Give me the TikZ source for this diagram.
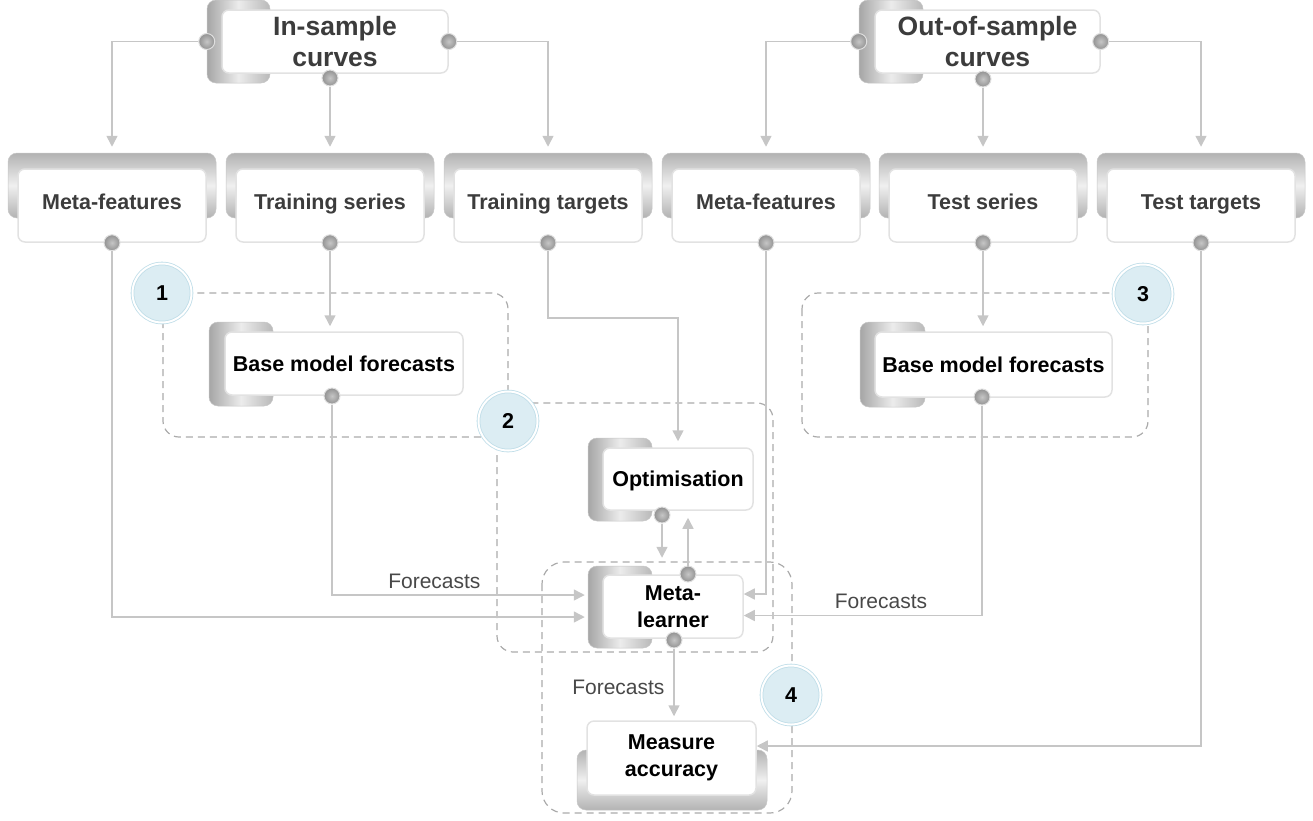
\documentclass[tikz,border=0pt]{standalone}
\usepackage{fontspec}
\setmainfont{Liberation Sans}
\usetikzlibrary{arrows.meta,positioning,shapes}

\definecolor{conn}{HTML}{C6C6C6}
\definecolor{dashgray}{HTML}{ABABAB}
\definecolor{boxline}{HTML}{E2E2E2}
\definecolor{headtext}{HTML}{3C3C3C}
\definecolor{lbltext}{HTML}{484848}
\definecolor{numfill}{HTML}{DCEDF3}
\definecolor{numring}{HTML}{BFDDE8}

\begin{document}
\begin{tikzpicture}[x=1pt,y=-1pt,
    >={Triangle[length=11pt,width=11pt]},
    arr/.style={->,draw=conn,line width=1.5pt},
    box/.style={draw=boxline,fill=white,rounded corners=7pt,line width=1.5pt,
                inner sep=0pt,align=center,text height=15.5pt,text depth=0pt,
                font=\bfseries\fontsize{21.5}{28}\selectfont},
    mbox/.style={draw=boxline,fill=white,rounded corners=7pt,line width=1.5pt,
                inner sep=0pt,align=center,font=\bfseries\fontsize{21.5}{27}\selectfont},
    headbox/.style={mbox,text=headtext,font=\bfseries\fontsize{26.5}{31}\selectfont},
    rowbox/.style={box,text=headtext,text depth=8pt,text height=16pt,
                   minimum width=188pt,minimum height=73pt},
    brk/.style={draw=gray!45,line width=0.5pt,rounded corners=9pt,inner sep=0pt},
    brkh/.style={brk,left color=gray!70,right color=gray!55,middle color=gray!15},
    brkv/.style={brk,top color=gray!60,bottom color=gray!60,middle color=gray!12,
                 minimum width=208pt,minimum height=65pt},
    knob/.style={circle,inner color=gray!45,outer color=gray!85,draw=gray!25,
                 line width=1pt,minimum size=16pt,inner sep=0pt},
    num/.style={circle,fill=numfill,draw=numring,line width=0.8pt,double=white,
                double distance=2pt,minimum size=59pt,inner sep=0pt,
                font=\bfseries\fontsize{21.5}{25}\selectfont},
    region/.style={draw=dashgray,line width=1.2pt,dash pattern=on 7pt off 5pt,
                   rounded corners=16pt},
    lbl/.style={text=lbltext,font=\fontsize{21}{25}\selectfont}]

    \useasboundingbox (0,0) rectangle (1313,820);

    % dashed groups
    \draw[region] (163,293) rectangle (508,437);
    \draw[region] (497,403) rectangle (773,652);
    \draw[region] (802,293) rectangle (1148,437);
    \draw[region,rounded corners=22pt] (542,562) rectangle (792,813);

    % curve sets
    \node[brkh,minimum width=63pt,minimum height=83pt] (iscbk) at (238.5,41.5) {};
    \node[headbox,minimum width=226pt,minimum height=63pt] (isc) at (335,41.5) {In-sample\\curves};
    \node[knob] (isc-l) at (iscbk.west) {};
    \node[knob] (isc-r) at (isc.east) {};
    \node[knob] (isc-b) at (330,78) {};

    \node[brkh,minimum width=64pt,minimum height=83pt] (oscbk) at (891,41.5) {};
    \node[headbox,minimum width=225pt,minimum height=63pt] (osc) at (987.5,41.5) {Out-of-sample\\curves};
    \node[knob] (osc-l) at (oscbk.west) {};
    \node[knob] (osc-r) at (osc.east) {};
    \node[knob] (osc-b) at (983,79) {};

    % inputs
    \node[brkv] (mf1bk) at (112,185.5) {};
    \node[rowbox] (mf1) at (112,205.5) {Meta-features};
    \node[knob] (mf1-d) at (mf1.south) {};

    \node[brkv] (tsbk) at (330,185.5) {};
    \node[rowbox] (ts) at (330,205.5) {Training series};
    \node[knob] (ts-d) at (ts.south) {};

    \node[brkv] (ttbk) at (548,185.5) {};
    \node[rowbox] (tt) at (548,205.5) {Training targets};
    \node[knob] (tt-d) at (tt.south) {};

    \node[brkv] (mf2bk) at (766,185.5) {};
    \node[rowbox] (mf2) at (766,205.5) {Meta-features};
    \node[knob] (mf2-d) at (mf2.south) {};

    \node[brkv] (tsebk) at (983,185.5) {};
    \node[rowbox] (tse) at (983,205.5) {Test series};
    \node[knob] (tse-d) at (tse.south) {};

    \node[brkv] (tstbk) at (1201,185.5) {};
    \node[rowbox] (tst) at (1201,205.5) {Test targets};
    \node[knob] (tst-d) at (tst.south) {};

    % base models
    \node[brkh,minimum width=64pt,minimum height=84pt] (bmf1bk) at (241,364) {};
    \node[box,minimum width=238pt,minimum height=63pt] (bmf1) at (344,363.5) {Base model forecasts};
    \node[knob] (bmf1-d) at (332,396) {};

    \node[brkh,minimum width=65pt,minimum height=85pt] (bmf2bk) at (892.5,364.5) {};
    \node[box,minimum width=237pt,minimum height=65pt] (bmf2) at (993.5,364.5) {Base model forecasts};
    \node[knob] (bmf2-d) at (982,397) {};

    % meta model
    \node[brkh,minimum width=64pt,minimum height=83pt] (optbk) at (620,479.5) {};
    \node[box,minimum width=150pt,minimum height=62pt] (opt) at (678,479) {Optimisation};
    \node[knob] (opt-d) at (662,515) {};

    \node[brkh,minimum width=64pt,minimum height=82pt] (mlbk) at (620,607) {};
    \node[mbox,minimum width=140pt,minimum height=63pt] (ml) at (673,606.5) {Meta-\\learner};
    \node[knob] (ml-t) at (688,574) {};
    \node[knob] (ml-b) at (674,640) {};

    \node[brkv,minimum width=190pt,minimum height=60pt] (mabk) at (672,780) {};
    \node[mbox,minimum width=169pt,minimum height=74pt] (ma) at (671.5,758) {Measure\\accuracy};

    % connectors
    \draw[arr,shorten >=6pt] (isc-l) -| (mf1bk);
    \draw[arr,shorten >=6pt] (isc-b) -- (tsbk);
    \draw[arr,shorten >=6pt] (isc-r) -| (ttbk);
    \draw[arr,shorten >=6pt] (osc-l) -| (mf2bk);
    \draw[arr,shorten >=6pt] (osc-b) -- (tsebk);
    \draw[arr,shorten >=6pt] (osc-r) -| (tstbk);

    \draw[arr,shorten >=5pt] (ts-d) -- (ts-d |- bmf1.north);
    \draw[arr,shorten >=5pt] (tse-d) -- (tse-d |- bmf2.north);
    \draw[arr,shorten >=6pt] (tt-d) -- ++(0,75) -| (opt.north);
    \draw[arr,shorten >=8pt] (opt-d) -- (opt-d |- mlbk.north);
    \draw[arr,shorten >=7pt] (ml-t) -- (ml-t |- opt.south);

    \draw[arr,shorten >=3pt] (bmf1-d) |- ([yshift=12pt]mlbk.west);
    \draw[arr,shorten >=3pt] (mf1-d) |- ([yshift=-10pt]mlbk.west);
    \draw[arr] (mf2-d) |- ([yshift=12.5pt]ml.east);
    \draw[arr] (bmf2-d) |- ([yshift=-9pt]ml.east);
    \draw[arr,shorten >=4pt] (ml-b) -- (ml-b |- ma.north);
    \draw[arr] (tst-d) |- ([yshift=12pt]ma.east);

    \node[lbl,anchor=east] (fc1) at (484,581) {Forecasts};
    \node[lbl] (fc2) at (881,601) {Forecasts};
    \node[lbl,anchor=east] (fc3) at (668,687) {Forecasts};

    % step numbers
    \node[num] (n1) at (162,293) {1};
    \node[num] (n2) at (508,421) {2};
    \node[num] (n3) at (1143,294) {3};
    \node[num] (n4) at (791,695) {4};
\end{tikzpicture}
\end{document}
